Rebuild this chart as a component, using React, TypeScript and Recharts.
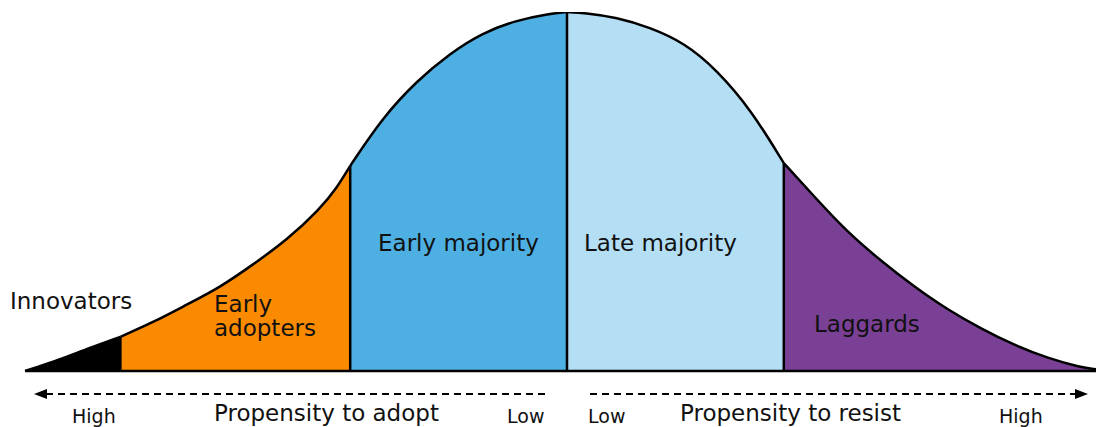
import React from 'react';
import { ComposedChart, Area, XAxis, YAxis, ReferenceLine } from 'recharts';

// Position along the adoption axis (standard deviations from the mean)
const positions = [-2.5, -2.37, -2.22, -2.06, -1.91, -1.76, -1.6, -1.45, -1.29, -1.14, -1.06, -1.0, -0.85, -0.69, -0.54, -0.39, -0.23, -0.08, 0, 0.08, 0.23, 0.38, 0.54, 0.69, 0.85, 1.0, 1.14, 1.29, 1.45, 1.6, 1.75, 1.91, 2.06, 2.22, 2.37, 2.44];
// Curve height at each position
const heights = [0, 0.01, 0.024, 0.038, 0.054, 0.073, 0.093, 0.118, 0.146, 0.18, 0.204, 0.228, 0.282, 0.323, 0.353, 0.376, 0.39, 0.397, 0.399, 0.398, 0.393, 0.382, 0.365, 0.335, 0.29, 0.231, 0.194, 0.155, 0.122, 0.094, 0.069, 0.047, 0.029, 0.014, 0.004, 0.002];

const segmentNames = ['Innovators', 'Early adopters', 'Early majority', 'Late majority', 'Laggards'];
const segmentKeys = ['innovators', 'earlyAdopters', 'earlyMajority', 'lateMajority', 'laggards'];
const segmentBounds = [-2.5, -2.06, -1.0, 0, 1.0, 2.44];
const segmentColors = ['#000000', '#FA8A00', '#4EB0E2', '#B3DEF3', '#7A4096'];

const data = positions.map((x, i) => {
  const row: Record<string, number | null> = { x };
  segmentKeys.forEach((k, s) => {
    row[k] = x >= segmentBounds[s] && x <= segmentBounds[s + 1] ? heights[i] : null;
  });
  return row;
});

const innerBounds = segmentBounds.slice(1, -1);

const font = 'DejaVu Sans, Verdana, sans-serif';

function Annotations() {
  const big = 23;
  const small = 19;
  return (
    <svg width={1096} height={427} style={{ position: 'absolute', left: 0, top: 0, pointerEvents: 'none' }}>
      <g fontFamily={font} fill="#111">
        <text x={10} y={309} fontSize={big}>{segmentNames[0]}</text>
        <text x={214} y={312} fontSize={big}>Early</text>
        <text x={214} y={336} fontSize={big}>adopters</text>
        <text x={378} y={251} fontSize={big}>{segmentNames[2]}</text>
        <text x={584} y={251} fontSize={big}>{segmentNames[3]}</text>
        <text x={814} y={332} fontSize={big}>{segmentNames[4]}</text>

        <text x={72} y={423} fontSize={small}>High</text>
        <text x={214} y={421} fontSize={big}>Propensity to adopt</text>
        <text x={507} y={423} fontSize={small}>Low</text>
        <text x={588} y={423} fontSize={small}>Low</text>
        <text x={680} y={421} fontSize={big}>Propensity to resist</text>
        <text x={999} y={423} fontSize={small}>High</text>
      </g>
      <line x1={46} y1={394} x2={548} y2={394} stroke="#000" strokeWidth={2} strokeDasharray="7 5" />
      <polygon points="34,394 47,389 47,399" fill="#000" />
      <line x1={590} y1={394} x2={1075} y2={394} stroke="#000" strokeWidth={2} strokeDasharray="7 5" />
      <polygon points="1088,394 1075,389 1075,399" fill="#000" />
    </svg>
  );
}

export default function App() {
  return (
    <div style={{ position: 'absolute', left: 0, top: 0, width: 1096, height: 427, background: '#fff' }}>
      <ComposedChart width={1096} height={427} data={data} margin={{ top: 12, right: 0, bottom: 56, left: 25 }}>
        <XAxis dataKey="x" type="number" domain={[-2.5, 2.44]} hide />
        <YAxis type="number" domain={[0, 0.399]} hide allowDataOverflow />
        {segmentKeys.map((k, s) => (
          <Area
            key={k}
            dataKey={k}
            name={segmentNames[s]}
            type="basis"
            fill={segmentColors[s]}
            fillOpacity={1}
            stroke="#000"
            strokeWidth={2.5}
            dot={false}
            activeDot={false}
            connectNulls={false}
            isAnimationActive={false}
          />
        ))}
        {innerBounds.map((b) => (
          <ReferenceLine
            key={b}
            segment={[{ x: b, y: 0 }, { x: b, y: heights[positions.indexOf(b)] }]}
            stroke="#000"
            strokeWidth={2.5}
          />
        ))}
        <ReferenceLine y={0} stroke="#000" strokeWidth={2.5} />
      </ComposedChart>
      <Annotations />
    </div>
  );
}
